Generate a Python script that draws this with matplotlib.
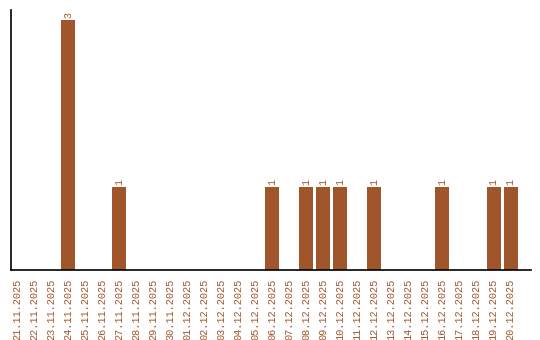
import matplotlib
matplotlib.use("Agg")
import matplotlib.pyplot as plt
import pandas as pd

dates = pd.date_range("2025-11-21", "2025-12-20", freq="D")
labels = [d.strftime("%d.%m.%Y") for d in dates]
counts_map = {"24.11.2025": 3, "27.11.2025": 1, "06.12.2025": 1, "08.12.2025": 1,
              "09.12.2025": 1, "10.12.2025": 1, "12.12.2025": 1, "16.12.2025": 1,
              "19.12.2025": 1, "20.12.2025": 1}
values = [counts_map.get(l, 0) for l in labels]

color = "#A0552A"
W, H = 540, 340
fig = plt.figure(figsize=(W/100, H/100), dpi=100)
ax = fig.add_axes([11/W, (H-270)/H, (531-11)/W, (270-10)/H])
x = list(range(len(labels)))
bars = ax.bar(x, values, width=14/17, color=color)
for xi, v in zip(x, values):
    if v > 0:
        ax.text(xi, v + 0.02, str(v), rotation=90, ha="center", va="bottom",
                color=color, fontsize=7.2, family="Liberation Mono")
ax.set_xlim(-0.35, 30.2)
ax.set_ylim(0, 3.12)
ax.set_xticks(x)
ax.set_xticklabels(labels, rotation=90, color=color, fontsize=7.4, family="Liberation Mono")
ax.tick_params(axis="x", length=0, pad=6)
ax.set_yticks([])
for s in ["top", "right"]:
    ax.spines[s].set_visible(False)
for s in ["left", "bottom"]:
    ax.spines[s].set_linewidth(1.2)
    ax.spines[s].set_color("black")
fig.savefig("out.png", dpi=100)
